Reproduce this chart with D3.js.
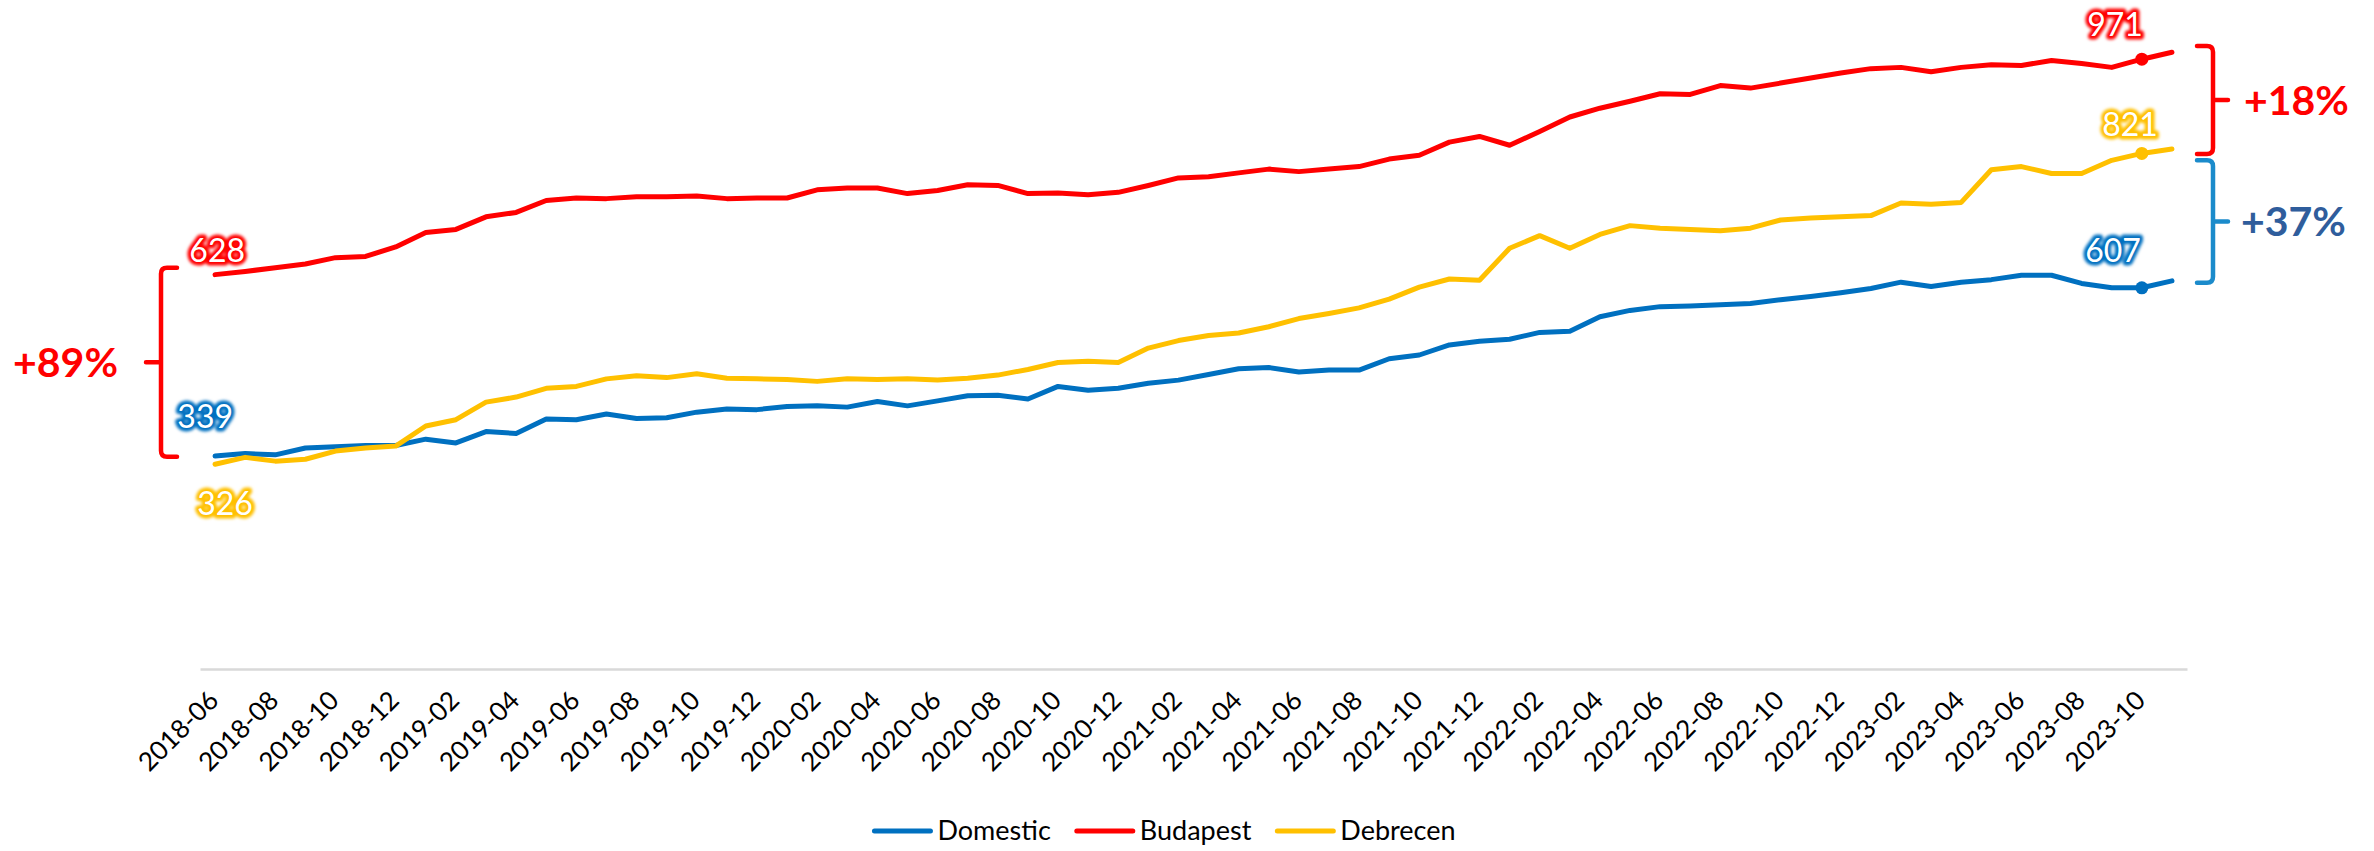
<!DOCTYPE html>
<html>
<head>
<meta charset="utf-8">
<script src="https://cdn.jsdelivr.net/npm/d3@7"></script>
<style>
  html, body { margin: 0; padding: 0; background: #ffffff; }
  svg { display: block; }
  text { font-family: Lato, "Open Sans", "DejaVu Sans", sans-serif; }
</style>
</head>
<body>
<svg id="chart" width="2374" height="851"></svg>
<script>
// Monthly categories, 2018-06 .. 2023-11
const months = [
  "2018-06","2018-07","2018-08","2018-09","2018-10","2018-11","2018-12",
  "2019-01","2019-02","2019-03","2019-04","2019-05","2019-06","2019-07","2019-08","2019-09","2019-10","2019-11","2019-12",
  "2020-01","2020-02","2020-03","2020-04","2020-05","2020-06","2020-07","2020-08","2020-09","2020-10","2020-11","2020-12",
  "2021-01","2021-02","2021-03","2021-04","2021-05","2021-06","2021-07","2021-08","2021-09","2021-10","2021-11","2021-12",
  "2022-01","2022-02","2022-03","2022-04","2022-05","2022-06","2022-07","2022-08","2022-09","2022-10","2022-11","2022-12",
  "2023-01","2023-02","2023-03","2023-04","2023-05","2023-06","2023-07","2023-08","2023-09","2023-10","2023-11"
];

// Category labels shown on the horizontal axis
const tickLabels = [
  "2018-06","2018-08","2018-10","2018-12","2019-02","2019-04","2019-06","2019-08","2019-10","2019-12",
  "2020-02","2020-04","2020-06","2020-08","2020-10","2020-12","2021-02","2021-04","2021-06","2021-08",
  "2021-10","2021-12","2022-02","2022-04","2022-06","2022-08","2022-10","2022-12","2023-02","2023-04",
  "2023-06","2023-08","2023-10"
];

const domestic = [
  339,343,341,352,354,356,356,366,360,378,375,398,397,406,399,400,409,414,413,418,419,417,
  426,419,427,435,436,430,450,444,447,455,460,469,478,480,473,476,476,494,500,516,522,525,
  536,538,561,571,577,578,580,582,588,593,599,606,616,609,616,620,627,627,614,607,607,618
];
const budapest = [
  628,633,639,645,655,657,672,695,700,720,727,746,750,749,752,752,753,749,750,750,763,766,
  766,757,762,771,770,757,758,755,759,770,782,784,790,796,792,796,800,812,818,839,848,834,
  856,879,893,904,916,915,929,925,933,941,949,956,958,951,958,962,961,969,964,958,971,982
];
const debrecen = [
  326,337,331,334,347,352,355,387,397,425,433,447,450,462,467,464,470,463,462,461,458,462,
  461,462,460,463,468,477,488,490,488,511,523,531,535,545,558,566,575,589,608,621,619,670,
  690,670,692,706,702,700,698,702,715,718,720,722,742,740,743,795,800,789,789,810,821,828
];

const seriesNames  = ["Domestic", "Budapest", "Debrecen"];
const seriesValues = [domestic, budapest, debrecen];
const seriesColors = ["#0070C0", "#FF0000", "#FFC000"];

// Growth annotations: value span of each bracket and its label
const changeLabels = ["+89%", "+18%", "+37%"];
const changeSpans  = [[338, 639], [820, 992], [615, 810]];

// Month at which the end-value markers are drawn
const markerMonth = "2023-10";

// ---------------------------------------------------------------
const svg = d3.select("#chart");
const W = 2374, H = 851;
svg.append("rect").attr("width", W).attr("height", H).attr("fill", "#ffffff");

const x = d3.scaleBand().domain(months).range([200, 2187]).paddingInner(0).paddingOuter(0);
const y = d3.scaleLinear().domain([0, 1000]).range([669, 41]);
const cx = m => x(m) + x.bandwidth() / 2;

// Glow used behind the value labels
const defs = svg.append("defs");
defs.append("filter").attr("id", "soft")
  .attr("x", "-30%").attr("y", "-30%").attr("width", "160%").attr("height", "160%")
  .append("feGaussianBlur").attr("stdDeviation", 1.4);

// Category axis
const xAxis = d3.axisBottom(x).tickValues(tickLabels).tickSize(0).tickPadding(0);
const gx = svg.append("g").attr("transform", `translate(0,${y(0)})`).call(xAxis);
gx.select(".domain").attr("stroke", "#D9D9D9").attr("stroke-width", 2.5);
gx.selectAll(".tick text")
  .attr("fill", "#000000")
  .attr("font-size", 26)
  .attr("font-family", "Lato, 'Open Sans', sans-serif")
  .attr("text-anchor", "end")
  .attr("dy", 0)
  .attr("x", 0).attr("y", 0)
  .attr("transform", "translate(5,33) rotate(-45)");

// Series lines
const line = d3.line().x((d, i) => cx(months[i])).y(d => y(d));
seriesValues.forEach((vals, k) => {
  svg.append("path")
    .datum(vals)
    .attr("fill", "none")
    .attr("stroke", seriesColors[k])
    .attr("stroke-width", 5)
    .attr("stroke-linejoin", "round")
    .attr("stroke-linecap", "round")
    .attr("d", line);
});

// End-value markers
const mi = months.indexOf(markerMonth);
seriesValues.forEach((vals, k) => {
  svg.append("circle")
    .attr("cx", cx(markerMonth)).attr("cy", y(vals[mi]))
    .attr("r", 6.5).attr("fill", seriesColors[k]);
});

// Value labels: white digits with a coloured glow
function glowLabel(tx, ty, anchor, str, color) {
  const g = svg.append("g");
  g.append("text")
    .attr("x", tx).attr("y", ty).attr("text-anchor", anchor)
    .attr("font-size", 32)
    .attr("fill", color).attr("stroke", color).attr("stroke-width", 7)
    .attr("stroke-linejoin", "round")
    .attr("filter", "url(#soft)")
    .text(str);
  g.append("text")
    .attr("x", tx).attr("y", ty).attr("text-anchor", anchor)
    .attr("font-size", 32)
    .attr("fill", "#ffffff")
    .text(str);
}

const m0 = months[0];
// start values
glowLabel(cx(m0) + 30, y(budapest[0]) - 13, "end", budapest[0], seriesColors[1]);
glowLabel(cx(m0) + 18, y(domestic[0]) - 28, "end", domestic[0], seriesColors[0]);
glowLabel(cx(m0) + 10, y(debrecen[0]) + 51, "middle", debrecen[0], seriesColors[2]);
// end values
glowLabel(cx(markerMonth) + 1, y(budapest[mi]) - 23, "end", budapest[mi], seriesColors[1]);
glowLabel(cx(markerMonth) + 16, y(debrecen[mi]) - 17, "end", debrecen[mi], seriesColors[2]);
glowLabel(cx(markerMonth) - 1, y(domestic[mi]) - 26, "end", domestic[mi], seriesColors[0]);

// Brackets with growth labels
function bracket(xv, v0, v1, dir, color) {
  // dir = 1 : arms point right, pointer left ; dir = -1 : mirrored
  const y1 = y(v1), y2 = y(v0), ym = (y1 + y2) / 2;
  const arm = 16 * dir, r = 6 * dir, ptr = 15 * dir;
  const p = d3.path();
  p.moveTo(xv + arm, y1);
  p.lineTo(xv + r, y1);
  p.quadraticCurveTo(xv, y1, xv, y1 + 6);
  p.lineTo(xv, y2 - 6);
  p.quadraticCurveTo(xv, y2, xv + r, y2);
  p.lineTo(xv + arm, y2);
  p.moveTo(xv, ym);
  p.lineTo(xv - ptr, ym);
  svg.append("path").attr("d", p.toString())
    .attr("fill", "none").attr("stroke", color)
    .attr("stroke-width", 4.5).attr("stroke-linecap", "round").attr("stroke-linejoin", "round");
  return ym;
}

const ymL = bracket(161, changeSpans[0][0], changeSpans[0][1], 1, "#FF0000");
svg.append("text").attr("x", 118).attr("y", ymL).attr("dy", "0.36em")
  .attr("text-anchor", "end").attr("font-size", 41).attr("font-weight", 700)
  .attr("fill", "#FF0000").text(changeLabels[0]);

const ymR1 = bracket(2213, changeSpans[1][0], changeSpans[1][1], -1, "#FF0000");
svg.append("text").attr("x", 2244).attr("y", ymR1).attr("dy", "0.36em")
  .attr("text-anchor", "start").attr("font-size", 41).attr("font-weight", 700)
  .attr("fill", "#FF0000").text(changeLabels[1]);

const ymR2 = bracket(2213, changeSpans[2][0], changeSpans[2][1], -1, "#1B8BCB");
svg.append("text").attr("x", 2241).attr("y", ymR2).attr("dy", "0.36em")
  .attr("text-anchor", "start").attr("font-size", 41).attr("font-weight", 700)
  .attr("fill", "#2F5D9C").text(changeLabels[2]);

// Legend
const legend = svg.append("g");
let lx = 0;
seriesNames.forEach((name, k) => {
  const g = legend.append("g").attr("transform", `translate(${lx},0)`);
  g.append("line").attr("x1", 0).attr("x2", 56).attr("y1", 0).attr("y2", 0)
    .attr("stroke", seriesColors[k]).attr("stroke-width", 5).attr("stroke-linecap", "round");
  const t = g.append("text").attr("x", 63).attr("y", 0).attr("dy", "0.35em")
    .attr("font-size", 27).attr("fill", "#000000").text(name);
  lx += 63 + t.node().getComputedTextLength() + 26;
});
const legendWidth = lx - 26;
legend.attr("transform", `translate(${1165 - legendWidth / 2},831)`);
</script>
</body>
</html>
